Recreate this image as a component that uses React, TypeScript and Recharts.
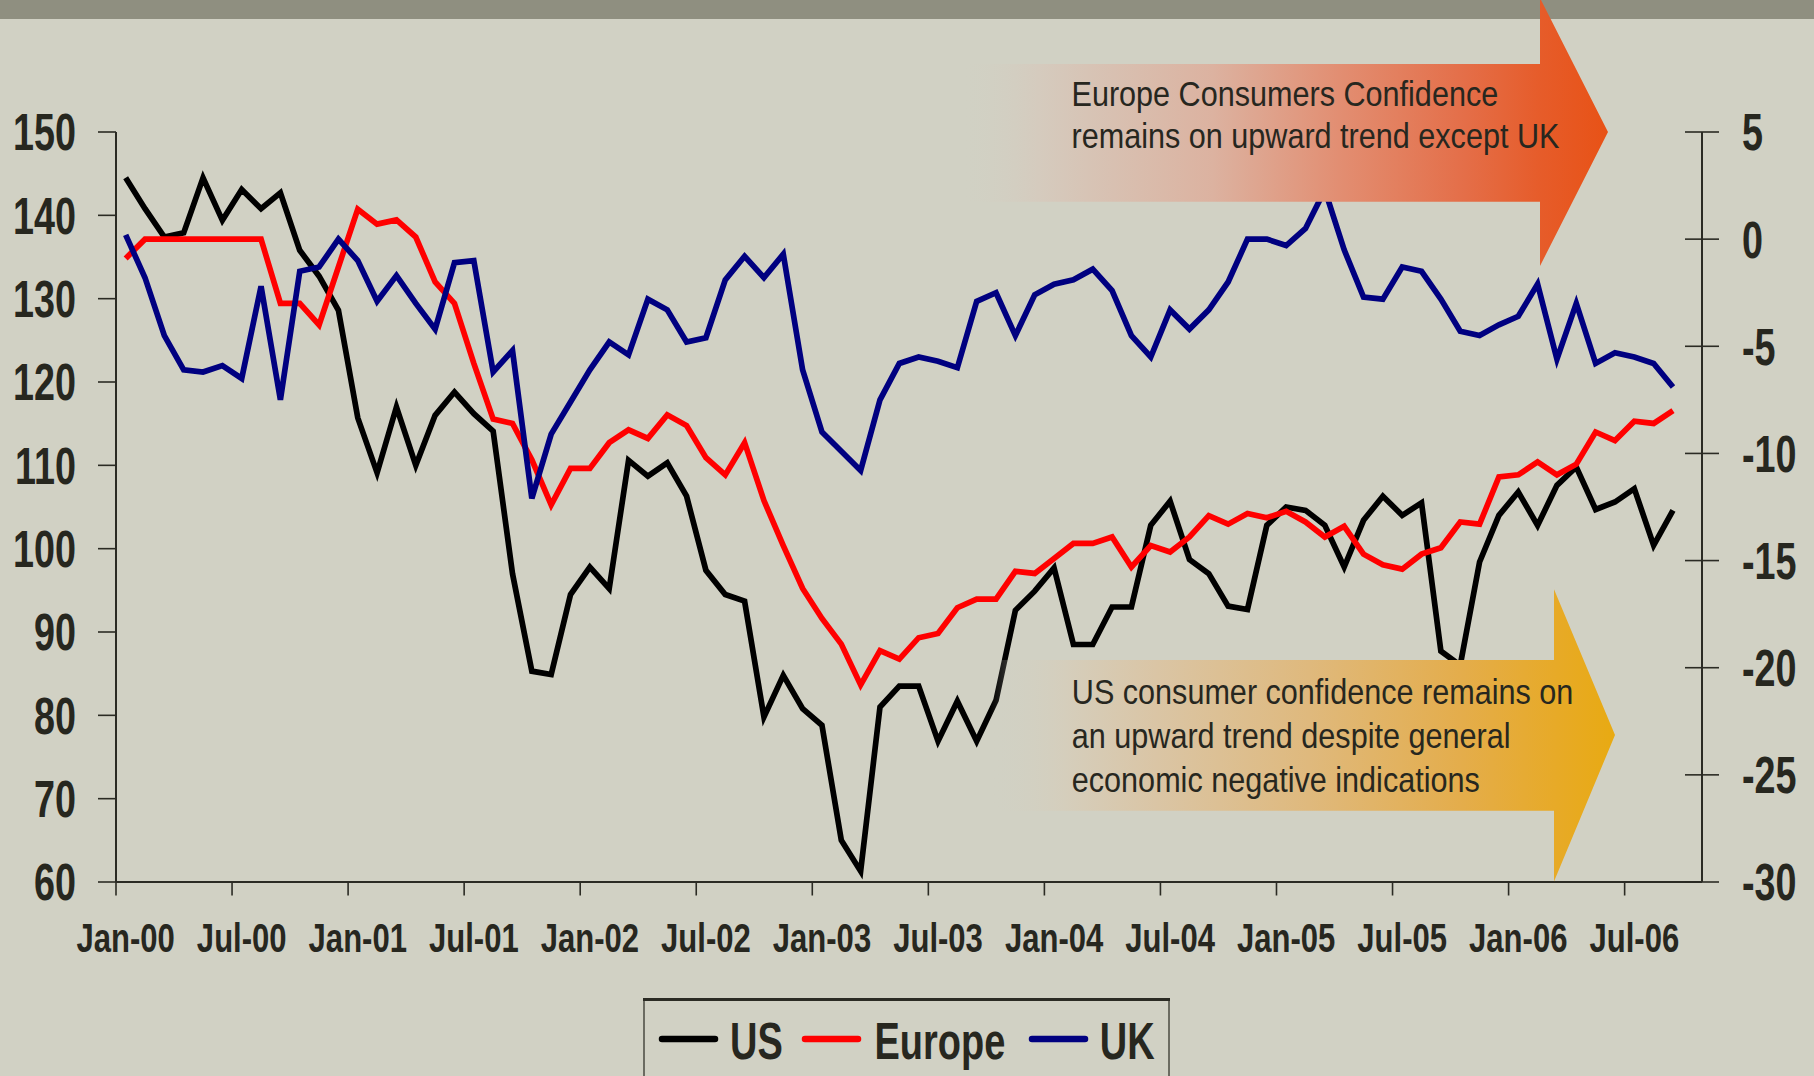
import React from 'react';
import { LineChart, Line, XAxis, YAxis } from 'recharts';

// ---------- data ----------
const monthNames = ['Jan', 'Feb', 'Mar', 'Apr', 'May', 'Jun', 'Jul', 'Aug', 'Sep', 'Oct', 'Nov', 'Dec'];
const monthCount = 82; // Jan-00 .. Oct-06 (axis span)
const months: string[] = Array.from({ length: monthCount }, (_, i) =>
  `${monthNames[i % 12]}-${String(Math.floor(i / 12)).padStart(2, '0')}`
);

// US consumer confidence (left axis)
const usValues = [
  144.5, 140.8, 137.4, 137.9, 144.5, 139.4, 143.1, 140.8, 142.7, 135.8,
  132.7, 128.6, 115.7, 109.1, 117.0, 110.0, 116.0, 118.8, 116.2, 114.1,
  97.0, 85.3, 84.9, 94.5, 97.8, 95.2, 110.6, 108.7, 110.3, 106.3,
  97.4, 94.5, 93.7, 79.8, 84.8, 80.8, 78.8, 65.0, 61.3, 81.0,
  83.5, 83.5, 76.9, 81.7, 76.9, 81.8, 92.6, 94.9, 97.7, 88.5,
  88.5, 93.0, 93.0, 102.8, 105.7, 98.7, 97.0, 93.1, 92.7, 102.8,
  105.0, 104.6, 102.8, 97.8, 103.4, 106.3, 104.0, 105.5, 87.7, 86.0,
  98.4, 104.0, 106.8, 102.8, 107.6, 109.8, 104.7, 105.6, 107.2, 100.4,
  104.6,
];

// Europe consumer confidence (right axis)
const europeValues = [
  -0.9, 0, 0, 0, 0, 0, 0, 0, -3.0, -3.0,
  -4.0, -1.3, 1.4, 0.7, 0.9, 0.1, -2.0, -3.0, -5.8, -8.4,
  -8.6, -10.3, -12.4, -10.7, -10.7, -9.5, -8.9, -9.3, -8.2, -8.7,
  -10.2, -11.0, -9.5, -12.2, -14.3, -16.3, -17.7, -18.9, -20.8, -19.2,
  -19.6, -18.6, -18.4, -17.2, -16.8, -16.8, -15.5, -15.6, -14.9, -14.2,
  -14.2, -13.9, -15.3, -14.3, -14.6, -13.9, -12.9, -13.3, -12.8, -13.0,
  -12.7, -13.2, -13.9, -13.4, -14.7, -15.2, -15.4, -14.7, -14.4, -13.2,
  -13.3, -11.1, -11.0, -10.4, -11.0, -10.5, -9.0, -9.4, -8.5, -8.6,
  -8.0,
];

// UK consumer confidence (right axis)
const ukValues = [
  0.2, -1.8, -4.5, -6.1, -6.2, -5.9, -6.5, -2.2, -7.5, -1.5,
  -1.3, 0, -1.0, -2.9, -1.7, -3.0, -4.2, -1.1, -1.0, -6.2,
  -5.2, -12.1, -9.1, -7.6, -6.1, -4.8, -5.4, -2.8, -3.3, -4.8,
  -4.6, -1.9, -0.8, -1.8, -0.7, -6.1, -9.0, -9.9, -10.8, -7.5,
  -5.8, -5.5, -5.7, -6.0, -2.9, -2.5, -4.5, -2.6, -2.1, -1.9,
  -1.4, -2.4, -4.5, -5.5, -3.3, -4.2, -3.3, -2.0, 0, 0,
  -0.3, 0.5, 2.3, -0.5, -2.7, -2.8, -1.3, -1.5, -2.8, -4.3,
  -4.5, -4.0, -3.6, -2.1, -5.6, -3.0, -5.8, -5.3, -5.5, -5.8,
  -6.9,
];

const leftTicks = [60, 70, 80, 90, 100, 110, 120, 130, 140, 150];
const rightTicks = [-30, -25, -20, -15, -10, -5, 0, 5];

const series = [
  { key: 'us', name: 'US', color: '#000000', axis: 'left' },
  { key: 'europe', name: 'Europe', color: '#ff0000', axis: 'right' },
  { key: 'uk', name: 'UK', color: '#000080', axis: 'right' },
];

const topNote = ['Europe Consumers Confidence', 'remains on upward trend except UK'];
const bottomNote = [
  'US consumer confidence remains on',
  'an upward trend despite general',
  'economic negative indications',
];

const tableData = months.map((m, i) => ({
  month: m,
  us: usValues[i] ?? null,
  europe: europeValues[i] ?? null,
  uk: ukValues[i] ?? null,
}));

// ---------- styles ----------
const W = 1814;
const H = 1076;
const BG = '#d1d1c4';
const BAR = '#8f8f80';
const AXIS = '#2b2b24';
const TEXT = '#27271f';
const FONT = "'Liberation Sans', Arial, Helvetica, sans-serif";

const LeftTick = (props: any) => {
  const { x, y, payload } = props;
  return (
    <text
      transform={`translate(${x},${y}) scale(0.74,1)`}
      textAnchor="end"
      dy="0.36em"
      fontSize={51}
      fontWeight={700}
      fill={TEXT}
      fontFamily={FONT}
    >
      {payload.value}
    </text>
  );
};

const RightTick = (props: any) => {
  const { x, y, payload } = props;
  const axisX = x - 17 - 23;
  return (
    <g>
      <line x1={axisX - 17} x2={axisX} y1={y} y2={y} stroke={AXIS} strokeWidth={1.6} />
      <text
        transform={`translate(${x},${y}) scale(0.74,1)`}
        textAnchor="start"
        dy="0.36em"
        fontSize={51}
        fontWeight={700}
        fill={TEXT}
        fontFamily={FONT}
      >
        {payload.value}
      </text>
    </g>
  );
};

const XTick = (props: any) => {
  const { x, y, payload } = props;
  const idx = payload.index;
  if (idx % 6 !== 0) return null;
  const off = payload.offset || 0;
  const bx = x - off;
  return (
    <g>
      <line x1={bx} x2={bx} y1={y} y2={y + 13.5} stroke={AXIS} strokeWidth={1.6} />
      <text
        transform={`translate(${x},${y + 70}) scale(0.776,1)`}
        textAnchor="middle"
        fontSize={40}
        fontWeight={700}
        fill={TEXT}
        fontFamily={FONT}
      >
        {payload.value}
      </text>
    </g>
  );
};

const legendLayout = [
  { lineX1: 662, lineX2: 715, textX: 730 },
  { lineX1: 805, lineX2: 858, textX: 874.5 },
  { lineX1: 1032, lineX2: 1085, textX: 1099.8 },
];

const Overlay = () => (
  <svg
    width={W}
    height={H}
    style={{ position: 'absolute', left: 0, top: 0, pointerEvents: 'none' }}
  >
    <defs>
      <linearGradient id="gTop" gradientUnits="userSpaceOnUse" x1={960} y1={0} x2={1608} y2={0}>
        <stop offset="0" stopColor="rgb(209,209,196)" stopOpacity={0} />
        <stop offset="0.12" stopColor="rgb(213,203,190)" />
        <stop offset="0.39" stopColor="rgb(220,178,160)" />
        <stop offset="0.585" stopColor="rgb(226,142,114)" />
        <stop offset="0.78" stopColor="rgb(228,110,72)" />
        <stop offset="0.895" stopColor="rgb(230,92,42)" />
        <stop offset="1" stopColor="rgb(232,82,22)" />
      </linearGradient>
      <linearGradient id="gBottom" gradientUnits="userSpaceOnUse" x1={990} y1={0} x2={1615} y2={0}>
        <stop offset="0" stopColor="rgb(209,209,196)" stopOpacity={0} />
        <stop offset="0.12" stopColor="rgb(213,206,188)" />
        <stop offset="0.265" stopColor="rgb(218,197,165)" />
        <stop offset="0.51" stopColor="rgb(223,185,125)" />
        <stop offset="0.755" stopColor="rgb(228,173,75)" />
        <stop offset="0.903" stopColor="rgb(231,170,40)" />
        <stop offset="1" stopColor="rgb(232,170,18)" />
      </linearGradient>
    </defs>
    <rect x={0} y={0} width={W} height={19} fill={BAR} />
    <polygon
      points="960,64 1540,64 1540,-2 1608,132 1540,266 1540,201.7 960,201.7"
      fill="url(#gTop)"
    />
    {topNote.map((t, i) => (
      <text
        key={t}
        transform={`translate(1071.5,${106 + i * 42.3}) scale(0.85,1)`}
        fontSize={36}
        fill={TEXT}
        fontFamily={FONT}
      >
        {t}
      </text>
    ))}
    <polygon
      points="990,660 1554,660 1554,589.3 1615,735 1554,881.5 1554,810.7 990,810.7"
      fill="url(#gBottom)"
    />
    {bottomNote.map((t, i) => (
      <text
        key={t}
        transform={`translate(1071.8,${703.5 + i * 44.1}) scale(0.85,1)`}
        fontSize={36}
        fill={TEXT}
        fontFamily={FONT}
      >
        {t}
      </text>
    ))}
    {/* legend */}
    <rect x={644} y={999} width={525} height={120} fill="none" stroke="#4a4a40" strokeWidth={1.5} />
    <line x1={643} x2={1170} y1={999.5} y2={999.5} stroke={AXIS} strokeWidth={3} />
    {series.map((s, i) => (
      <g key={s.key}>
        <line
          x1={legendLayout[i].lineX1}
          x2={legendLayout[i].lineX2}
          y1={1039}
          y2={1039}
          stroke={s.color}
          strokeWidth={6.5}
          strokeLinecap="round"
        />
        <text
          transform={`translate(${legendLayout[i].textX},1059) scale(0.73,1)`}
          fontSize={52}
          fontWeight={700}
          fill={TEXT}
          fontFamily={FONT}
        >
          {s.name}
        </text>
      </g>
    ))}
  </svg>
);

export default function App() {
  return (
    <div
      style={{
        position: 'absolute',
        left: 0,
        top: 0,
        width: W,
        height: H,
        background: BG,
        overflow: 'hidden',
      }}
    >
      <LineChart
        width={W}
        height={H}
        data={tableData}
        margin={{ top: 132, right: 0, bottom: 134, left: 0 }}
      >
        <XAxis
          dataKey="month"
          scale="band"
          interval={0}
          height={60}
          tickLine={false}
          tickSize={0}
          tickMargin={0}
          axisLine={{ stroke: AXIS, strokeWidth: 2 }}
          tick={<XTick />}
        />
        <YAxis
          yAxisId="left"
          domain={[60, 150]}
          ticks={leftTicks}
          interval={0}
          width={116}
          tickSize={18}
          tickMargin={22}
          axisLine={{ stroke: AXIS, strokeWidth: 2 }}
          tickLine={{ stroke: AXIS, strokeWidth: 1.6 }}
          tick={<LeftTick />}
        />
        <YAxis
          yAxisId="right"
          orientation="right"
          domain={[-30, 5]}
          ticks={rightTicks}
          interval={0}
          width={112}
          tickSize={17}
          tickMargin={23}
          axisLine={{ stroke: AXIS, strokeWidth: 2 }}
          tickLine={{ stroke: AXIS, strokeWidth: 1.6 }}
          tick={<RightTick />}
        />
        {series.map((s) => (
          <Line
            key={s.key}
            yAxisId={s.axis}
            type="linear"
            dataKey={s.key}
            name={s.name}
            stroke={s.color}
            strokeWidth={5.7}
            dot={false}
            activeDot={false}
            isAnimationActive={false}
          />
        ))}
      </LineChart>
      <Overlay />
    </div>
  );
}
